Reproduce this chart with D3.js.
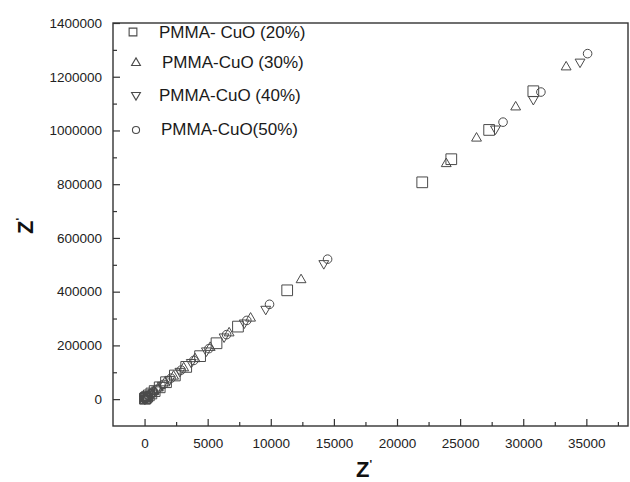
<!DOCTYPE html>
<html>
<head>
<meta charset="utf-8">
<script src="https://cdn.jsdelivr.net/npm/d3@7/dist/d3.min.js"></script>
<style>
  body { margin: 0; background: #fff; }
  text { font-family: "Liberation Sans", Arial, sans-serif; }
</style>
</head>
<body>
<svg id="chart" width="630" height="482"></svg>
<script>
const seriesNames = ["PMMA- CuO (20%)", "PMMA-CuO (30%)", "PMMA-CuO (40%)", "PMMA-CuO(50%)"];

// [Z', Z'']
const pmma20 = [
  [30, 1500], [60, 3000], [110, 5000], [200, 9000], [340, 14000], [540, 21000], [800, 30000],
  [1200, 44000], [1700, 63000], [2400, 88000], [3300, 120000], [4400, 160000],
  [5700, 208000], [7400, 270000], [11300, 405000], [22000, 807000],
  [24300, 893000], [27300, 1002000], [30800, 1146000]
];
const pmma30 = [
  [40, 2000], [80, 3500], [150, 6000], [300, 11000], [500, 19000], [750, 28000], [1100, 41000],
  [1600, 60000], [2300, 85000], [3100, 116000], [4000, 150000], [5200, 192000],
  [6700, 246000], [8400, 301000], [12400, 444000], [23900, 876000],
  [26300, 971000], [29400, 1087000], [33400, 1236000]
];
const pmma40 = [
  [20, 1000], [50, 2500], [120, 5000], [250, 10000], [420, 16000], [650, 24000], [950, 35000],
  [1400, 52000], [2000, 74000], [2800, 104000], [3700, 137000], [4900, 180000],
  [6300, 232000], [7900, 284000], [9600, 335000], [14200, 505000],
  [27800, 1006000], [30800, 1116000], [34500, 1255000]
];
const pmma50 = [
  [20, 800], [40, 2000], [80, 4000], [180, 8000], [300, 12000], [480, 18000], [700, 26000],
  [1000, 37000], [1500, 55000], [2100, 78000], [2900, 108000], [3900, 144000],
  [5100, 188000], [6500, 240000], [8100, 293000], [9900, 353000], [14500, 521000],
  [28400, 1031000], [31400, 1143000], [35100, 1286000]
];

const xTicks = [0, 5000, 10000, 15000, 20000, 25000, 30000, 35000];
const xMinor = [2500, 7500, 12500, 17500, 22500, 27500, 32500, 37500];
const yTicks = [0, 200000, 400000, 600000, 800000, 1000000, 1200000, 1400000];
const yMinor = [100000, 300000, 500000, 700000, 900000, 1100000, 1300000];

const width = 630;
const height = 482;
const margin = { top: 23, right: 2, bottom: 56, left: 113 };

const svg = d3.select("#chart");

const x = d3.scaleLinear().domain([-2500, 38300]).range([margin.left, width - margin.right]);
const y = d3.scaleLinear().domain([-100000, 1400000]).range([height - margin.bottom, margin.top]);

const axisColor = "#333";
const markColor = "#4a4a4a";

// minor ticks first, majors on top
svg.append("g")
  .attr("transform", `translate(0,${height - margin.bottom})`)
  .call(d3.axisBottom(x).tickValues(xMinor).tickSize(-4).tickFormat(""))
  .call(g => g.select(".domain").remove());

svg.append("g")
  .attr("transform", `translate(${margin.left},0)`)
  .call(d3.axisLeft(y).tickValues(yMinor).tickSize(-4).tickFormat(""))
  .call(g => g.select(".domain").remove());

svg.append("g")
  .attr("transform", `translate(0,${height - margin.bottom})`)
  .call(d3.axisBottom(x).tickValues(xTicks).tickSize(-7).tickPadding(12).tickFormat(d3.format("d")))
  .call(g => g.select(".domain").remove());

svg.append("g")
  .attr("transform", `translate(${margin.left},0)`)
  .call(d3.axisLeft(y).tickValues(yTicks).tickSize(-7).tickPadding(11).tickFormat(d3.format("d")))
  .call(g => g.select(".domain").remove());

svg.selectAll(".tick line").attr("stroke", axisColor).attr("stroke-width", 1.2);
svg.selectAll(".tick text").attr("fill", "#222").style("font-size", "13.5px");

// frame
svg.append("rect")
  .attr("x", margin.left)
  .attr("y", margin.top)
  .attr("width", width - margin.right - margin.left)
  .attr("height", height - margin.bottom - margin.top)
  .attr("fill", "none")
  .attr("stroke", axisColor)
  .attr("stroke-width", 1.4);

const series = [
  { name: seriesNames[0], data: pmma20, type: d3.symbolSquare, size: 115, rot: 0 },
  { name: seriesNames[1], data: pmma30, type: d3.symbolTriangle, size: 42, rot: 0 },
  { name: seriesNames[2], data: pmma40, type: d3.symbolTriangle, size: 42, rot: 180 },
  { name: seriesNames[3], data: pmma50, type: d3.symbolCircle, size: 58, rot: 0 },
];

series.forEach(s => {
  const sym = d3.symbol().type(s.type).size(s.size);
  svg.append("g")
    .selectAll("path")
    .data(s.data)
    .join("path")
    .attr("d", sym)
    .attr("transform", d => `translate(${x(d[0])},${y(d[1])}) rotate(${s.rot})`)
    .attr("fill", "none")
    .attr("stroke", markColor)
    .attr("stroke-width", 1);
});

// legend
const legendRows = [
  { mx: 133, my: 32, tx: 159, ty: 38 },
  { mx: 136, my: 63, tx: 162, ty: 68 },
  { mx: 136, my: 95, tx: 159, ty: 101 },
  { mx: 136, my: 130, tx: 161, ty: 135 },
];
const legendSizes = [60, 34, 34, 40];

series.forEach((s, i) => {
  const r = legendRows[i];
  svg.append("path")
    .attr("d", d3.symbol().type(s.type).size(legendSizes[i]))
    .attr("transform", `translate(${r.mx},${r.my}) rotate(${s.rot})`)
    .attr("fill", "none")
    .attr("stroke", markColor)
    .attr("stroke-width", 1.1);
  svg.append("text")
    .attr("x", r.tx)
    .attr("y", r.ty)
    .attr("fill", "#1a1a1a")
    .style("font-size", "17px")
    .text(s.name);
});

// axis titles
const xTitle = svg.append("text")
  .attr("x", 364)
  .attr("y", 477)
  .attr("text-anchor", "middle")
  .attr("font-weight", "bold")
  .style("font-size", "22px")
  .attr("fill", "#111");
xTitle.append("tspan").text("Z");
xTitle.append("tspan").attr("dy", -9).style("font-size", "11px").text("'");

const yTitle = svg.append("text")
  .attr("transform", "translate(33,226) rotate(-90)")
  .attr("text-anchor", "middle")
  .attr("font-weight", "bold")
  .style("font-size", "22px")
  .attr("fill", "#111");
yTitle.append("tspan").text("Z");
yTitle.append("tspan").attr("dy", -9).style("font-size", "11px").text("'");
</script>
</body>
</html>
